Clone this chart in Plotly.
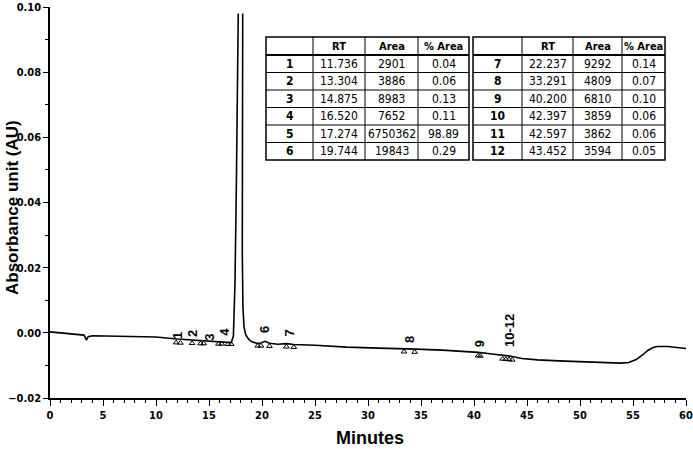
import plotly.graph_objects as go

# chromatogram trace (minutes, AU); None leaves the clipped peak top open
time_min = [0, 2.5, 3.2, 3.45, 3.6, 4.0, 6, 8, 10, 12, 14, 15, 16, 16.8, 17.1,
            17.3, 17.45, 17.58, 17.68, 17.76, None, 18.18, 18.14, 18.14, 18.2,
            18.3, 18.45, 18.7, 19.0, 19.5, 19.9, 20.3, 20.7, 21.5, 22.3, 23.0,
            25, 28, 31, 33.5, 34.5, 37, 39, 40.4, 41.5, 42.8, 43.5, 44.5, 46,
            48, 50, 52, 53.8, 54.6, 55.3, 55.9, 56.4, 56.9, 57.3, 58.3, 59, 60]
absorb_au = [0.0003, -0.0004, -0.0007, -0.0022, -0.0012, -0.0009, -0.0011, -0.0012,
             -0.0013, -0.0019, -0.0024, -0.0026, -0.0028, -0.0030, -0.0030,
             -0.0010, 0.015, 0.045, 0.08, 0.098, None, 0.098, 0.06, 0.025, 0.008,
             0.002, -0.0005, -0.0018, -0.0027, -0.0032, -0.0031, -0.0026, -0.0032,
             -0.0035, -0.0033, -0.0036, -0.0038, -0.0044, -0.0047, -0.0048, -0.0050,
             -0.0053, -0.0056, -0.0060, -0.0064, -0.0068, -0.0072, -0.0079, -0.0083,
             -0.0086, -0.0088, -0.0090, -0.0093, -0.0091, -0.0082, -0.0068, -0.0054,
             -0.0045, -0.0042, -0.0042, -0.0045, -0.0048]

# integration marks (open triangles)
mark_time = [11.9, 12.3, 13.4, 14.2, 14.5, 15.9, 16.2, 16.8, 17.1, 19.6, 19.9, 20.7,
             22.3, 23.0, 33.4, 34.4, 40.4, 40.6, 42.7, 43.0, 43.3, 43.6]
mark_abs = [-0.0030, -0.0031, -0.0032, -0.0033, -0.0033, -0.0034, -0.0034, -0.0035,
            -0.0035, -0.0040, -0.0040, -0.0041, -0.0043, -0.0044, -0.0058, -0.0059,
            -0.0070, -0.0071, -0.0080, -0.0081, -0.0082, -0.0083]

# peak labels
label_text = ["1", "2", "3", "4", "6", "7", "8", "9", "10-12"]
label_time = [12.1, 13.5, 15.1, 16.5, 20.3, 22.6, 33.9, 40.6, 43.4]
label_abs = [-0.0009, -0.0003, -0.0015, 0.0003, 0.0009, 0.0, -0.0021, -0.0034, 0.0006]

# peak table
peak_no = ["1", "2", "3", "4", "5", "6", "7", "8", "9", "10", "11", "12"]
rt = ["11.736", "13.304", "14.875", "16.520", "17.274", "19.744",
      "22.237", "33.291", "40.200", "42.397", "42.597", "43.452"]
area = ["2901", "3886", "8983", "7652", "6750362", "19843",
        "9292", "4809", "6810", "3859", "3862", "3594"]
pct_area = ["0.04", "0.06", "0.13", "0.11", "98.89", "0.29",
            "0.14", "0.07", "0.10", "0.06", "0.06", "0.05"]
table_header = ["", "RT", "Area", "% Area"]

W, H = 693, 449
L, R, T, B = 50, 7, 7, 51
pw, ph = W - L - R, H - T - B

def px_x(px):
    return (px - L) / pw

def px_y(py):
    return (H - B - py) / ph

narrow = "Liberation Sans Narrow, DejaVu Sans Condensed, Liberation Sans, Arial, sans-serif"
sans = "Liberation Sans, Arial, sans-serif"

fig = go.Figure()

fig.add_trace(go.Scatter(x=time_min, y=absorb_au, mode="lines",
                         line=dict(color="black", width=1.6),
                         connectgaps=False, hoverinfo="skip", showlegend=False))

fig.add_trace(go.Scatter(x=mark_time, y=mark_abs, mode="markers",
                         marker=dict(symbol="triangle-up-open", size=5, color="black",
                                     line=dict(width=1)),
                         hoverinfo="skip", showlegend=False))

for txt, t, a in zip(label_text, label_time, label_abs):
    fig.add_annotation(x=t, y=a, text="<b>%s</b>" % txt, showarrow=False, textangle=-90,
                       xanchor="center", yanchor="middle",
                       font=dict(size=13, family=sans, color="black"))
fig.add_annotation(x=18.2, y=0.1013, text="<b>5</b>", showarrow=False,
                   xanchor="center", yanchor="middle",
                   font=dict(size=15, family=sans, color="black"))

# tables drawn as lines + text (pixel grid converted to paper coords)
row_edges = [37, 55, 72.5, 90, 107.5, 125, 142.5, 160]

def add_table(rows, col_edges):
    x0, x1 = px_x(col_edges[0]), px_x(col_edges[-1])
    y0, y1 = px_y(row_edges[-1]), px_y(row_edges[0])
    fig.add_shape(type="rect", xref="paper", yref="paper", x0=x0, x1=x1, y0=y0, y1=y1,
                  line=dict(color="black", width=1.5), fillcolor="white", layer="above")
    for i, e in enumerate(row_edges[1:-1]):
        fig.add_shape(type="line", xref="paper", yref="paper", x0=x0, x1=x1,
                      y0=px_y(e), y1=px_y(e),
                      line=dict(color="black", width=2 if i == 0 else 1))
    for e in col_edges[1:-1]:
        fig.add_shape(type="line", xref="paper", yref="paper", x0=px_x(e), x1=px_x(e),
                      y0=y0, y1=y1, line=dict(color="black", width=1))
    cols = [[peak_no[i] for i in rows], [rt[i] for i in rows],
            [area[i] for i in rows], [pct_area[i] for i in rows]]
    for c in range(4):
        xc = px_x((col_edges[c] + col_edges[c + 1]) / 2)
        if table_header[c]:
            fig.add_annotation(xref="paper", yref="paper", x=xc,
                               y=px_y((row_edges[0] + row_edges[1]) / 2),
                               xanchor="center", yanchor="middle",
                               text="<b>%s</b>" % table_header[c], showarrow=False,
                               font=dict(family=narrow, size=11, color="black"))
        for r, val in enumerate(cols[c]):
            txt = "<b>%s</b>" % val if c == 0 else val
            fig.add_annotation(xref="paper", yref="paper", x=xc,
                               y=px_y((row_edges[r + 1] + row_edges[r + 2]) / 2),
                               xanchor="center", yanchor="middle",
                               text=txt, showarrow=False,
                               font=dict(family=narrow, size=12, color="black"))

add_table(range(0, 6), [266, 313, 365, 418, 469])
add_table(range(6, 12), [473, 522, 573, 622, 665])

# axis titles
fig.add_annotation(xref="paper", yref="paper", x=px_x(12), y=px_y(208),
                   xanchor="center", yanchor="middle",
                   text="<b>Absorbance unit (AU)</b>", showarrow=False, textangle=-90,
                   font=dict(family=sans, size=17, color="black"))
fig.add_annotation(xref="paper", yref="paper", x=px_x(370), y=px_y(438),
                   xanchor="center", yanchor="middle",
                   text="<b>Minutes</b>", showarrow=False,
                   font=dict(family=sans, size=18, color="black"))

tick_font = dict(family=narrow, size=11, color="black", weight="bold")

fig.update_layout(
    width=W, height=H,
    margin=dict(l=L, r=R, t=T, b=B, autoexpand=False),
    paper_bgcolor="white", plot_bgcolor="white",
    showlegend=False,
    xaxis=dict(range=[0, 60], dtick=5, tick0=0, ticks="outside", ticklen=6,
               tickcolor="black", showline=True, linecolor="black", linewidth=1.5,
               showgrid=False, zeroline=False, automargin=False,
               minor=dict(dtick=1, ticks="outside", ticklen=3, tickcolor="black"),
               tickfont=tick_font),
    yaxis=dict(range=[-0.02, 0.10], dtick=0.02, tick0=0, ticks="outside", ticklen=5,
               tickcolor="black", showline=True, linecolor="black", linewidth=1.5,
               showgrid=False, zeroline=False, tickformat=".2f", automargin=False,
               minor=dict(dtick=0.01, ticks="outside", ticklen=3, tickcolor="black"),
               tickfont=tick_font),
)

# drop the browser's default body margin so the figure sits at the page corner
fig.write_html("out.html", config={"displayModeBar": False},
               post_script="document.body.style.margin='0';")
